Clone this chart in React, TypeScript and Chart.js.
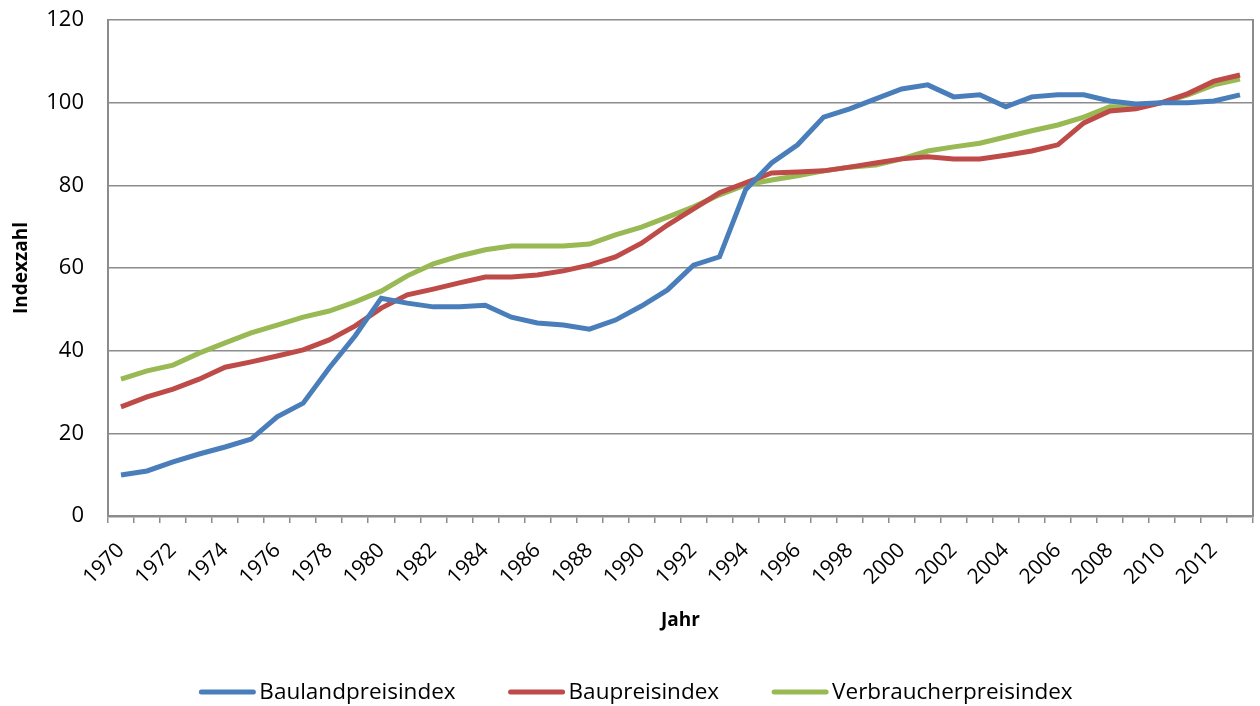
import React, { useEffect, useRef } from "react";
import { Chart, registerables } from "chart.js";

Chart.register(...registerables);

const years = Array.from({ length: 44 }, (_, i) => String(1970 + i));

const bauland = [
  9.9, 10.9, 13.1, 15.0, 16.7, 18.6, 24.0, 27.3, 35.8, 43.6,
  52.7, 51.5, 50.6, 50.6, 51.0, 48.1, 46.7, 46.2, 45.2, 47.4,
  50.8, 54.7, 60.7, 62.7, 78.9, 85.4, 89.8, 96.5, 98.5, 100.9,
  103.3, 104.3, 101.4, 101.9, 99.0, 101.4, 101.9, 101.9, 100.4, 99.7,
  100.0, 100.0, 100.4, 101.9,
];

const baupreis = [
  26.4, 28.8, 30.7, 33.1, 36.0, 37.3, 38.7, 40.2, 42.6, 46.0,
  50.3, 53.5, 54.9, 56.4, 57.8, 57.8, 58.3, 59.3, 60.7, 62.7,
  66.0, 70.4, 74.3, 78.2, 80.6, 83.0, 83.2, 83.5, 84.4, 85.4,
  86.4, 86.9, 86.4, 86.4, 87.3, 88.3, 89.8, 95.1, 98.0, 98.5,
  100.0, 102.2, 105.2, 106.7,
];

const verbraucher = [
  33.1, 35.1, 36.5, 39.4, 41.9, 44.3, 46.2, 48.1, 49.6, 51.8,
  54.4, 58.1, 61.0, 62.9, 64.4, 65.3, 65.3, 65.3, 65.8, 68.0,
  69.9, 72.3, 74.8, 77.7, 80.1, 81.3, 82.3, 83.5, 84.4, 84.9,
  86.4, 88.3, 89.3, 90.2, 91.7, 93.2, 94.6, 96.5, 99.0, 99.0,
  100.0, 101.9, 104.3, 105.7,
];

const seriesNames = ["Baulandpreisindex", "Baupreisindex", "Verbraucherpreisindex"];
const seriesColors = ["#4A7EBB", "#BE4B48", "#98B954"];
const yTicks = [0, 20, 40, 60, 80, 100, 120];

const FONT = "'Open Sans', sans-serif";
const GRID = "#8c8c8c";

const bottomLegend = {
  id: "bottomLegend",
  afterDraw(chart: any) {
    const ctx = chart.ctx;
    const lineW = 56;
    const gapText = 4;
    const gapItem = 53;
    const cy = 692;
    ctx.save();
    ctx.font = `22.5px ${FONT}`;
    ctx.textBaseline = "middle";
    ctx.textAlign = "left";
    const items = chart.data.datasets.map((d: any) => ({
      label: d.label,
      color: d.borderColor,
      w: lineW + gapText + ctx.measureText(d.label).width,
    }));
    const total = items.reduce((s: number, it: any) => s + it.w, 0) + gapItem * (items.length - 1);
    let x = 636 - total / 2;
    for (const it of items) {
      ctx.strokeStyle = it.color;
      ctx.lineWidth = 5;
      ctx.lineCap = "round";
      ctx.beginPath();
      ctx.moveTo(x + 2, cy);
      ctx.lineTo(x + lineW - 2, cy);
      ctx.stroke();
      ctx.fillStyle = "#000";
      ctx.fillText(it.label, x + lineW + gapText, cy + 1);
      x += it.w + gapItem;
    }
    ctx.restore();
  },
};

export default function App() {
  const ref = useRef<HTMLCanvasElement | null>(null);

  useEffect(() => {
    document.body.style.margin = "0";
    const ctx = ref.current!.getContext("2d")!;
    const data = [bauland, baupreis, verbraucher];
    const chart = new Chart(ctx, {
      type: "line",
      data: {
        labels: years,
        datasets: seriesNames.map((name, i) => ({
          label: name,
          data: data[i],
          borderColor: seriesColors[i],
          backgroundColor: seriesColors[i],
          borderWidth: 5,
          pointRadius: 0,
          tension: 0,
          yAxisID: "y",
        })),
      },
      plugins: [bottomLegend],
      options: {
        responsive: false,
        animation: false,
        layout: { padding: { left: 0, right: 0, top: 20, bottom: 74 } },
        plugins: {
          tooltip: { enabled: false },
          legend: { display: false },
        },
        scales: {
          x: {
            type: "category",
            offset: true,
            grid: {
              offset: true,
              drawOnChartArea: false,
              drawTicks: true,
              tickLength: 7,
              color: GRID,
              lineWidth: 1.5,
            },
            border: { color: GRID, width: 2.5 },
            ticks: {
              autoSkip: false,
              maxRotation: 45,
              minRotation: 45,
              color: "#000",
              font: { family: FONT, size: 21 },
              padding: 15,
              callback: (_v: any, i: number) => (i % 2 === 0 ? years[i] : ""),
            },
            title: {
              display: true,
              text: "Jahr",
              color: "#000",
              font: { family: FONT, size: 19, weight: "bold" },
              padding: { top: 0, bottom: 0 },
            },
            afterFit: (s: any) => {
              s.height = 116;
              s.paddingLeft = 0;
              s.paddingRight = 0;
            },
          },
          y: {
            min: 0,
            max: 120,
            afterBuildTicks: (s: any) => {
              s.ticks = yTicks.map((v) => ({ value: v }));
            },
            grid: { color: GRID, lineWidth: 1.5, drawTicks: false },
            border: { color: GRID, width: 2 },
            ticks: {
              color: "#000",
              font: { family: FONT, size: 22 },
              padding: 24,
            },
            title: {
              display: true,
              text: "Indexzahl",
              color: "#000",
              font: { family: FONT, size: 19, weight: "bold" },
              padding: { top: 10, bottom: 0 },
            },
            afterFit: (s: any) => {
              s.width = 108;
              s.paddingTop = 0;
              s.paddingBottom = 0;
            },
          },
          y2: {
            position: "right",
            min: 0,
            max: 120,
            grid: { drawOnChartArea: false, drawTicks: false },
            border: { color: GRID, width: 2 },
            ticks: { display: false, padding: 0 },
            afterFit: (s: any) => {
              s.width = 7;
              s.paddingTop = 0;
              s.paddingBottom = 0;
            },
          },
        },
      },
    });
    return () => chart.destroy();
  }, []);

  return <canvas ref={ref} width={1260} height={706} style={{ display: "block" }} />;
}
